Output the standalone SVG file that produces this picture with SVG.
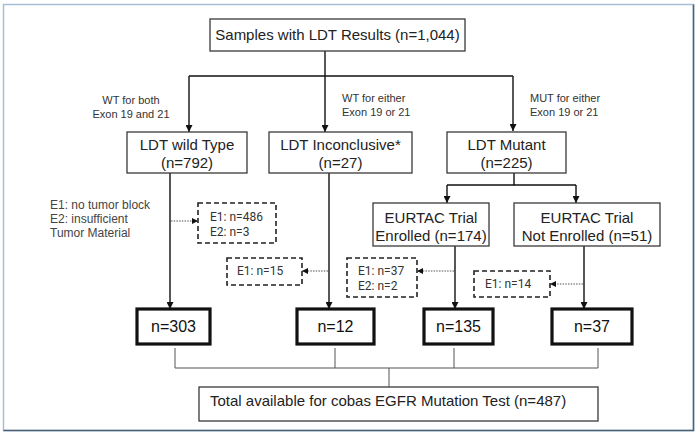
<svg xmlns="http://www.w3.org/2000/svg" width="700" height="436" viewBox="0 0 700 436">
<defs>
<style>
.box{fill:#fff;stroke:#3a3a3a;stroke-width:1.3}
.thick{fill:#fff;stroke:#111;stroke-width:3.2}
.dash{fill:#fff;stroke:#222;stroke-width:1.6;stroke-dasharray:5,3}
.ln{fill:none;stroke:#111;stroke-width:1.4}
.thin{fill:none;stroke:#555;stroke-width:1}
.dot{fill:none;stroke:#555;stroke-width:1.2;stroke-dasharray:1.5,1.2}
.t{font-family:"Liberation Sans",Arial,sans-serif;font-size:15px;fill:#222;text-anchor:middle}
.ts{font-family:"Liberation Sans",Arial,sans-serif;font-size:15px;fill:#222;text-anchor:start}
.tb{font-family:"Liberation Sans",Arial,sans-serif;font-size:16px;fill:#111;text-anchor:middle}
.lab{font-family:"Liberation Sans",Arial,sans-serif;font-size:11px;fill:#333}
.labc{font-family:"Liberation Sans",Arial,sans-serif;font-size:11px;fill:#333;text-anchor:middle}
.side{font-family:"Liberation Sans",Arial,sans-serif;font-size:12px;fill:#444}
.d{font-family:Roboto,"Liberation Sans",sans-serif;font-size:12px;fill:#333}
</style>
<marker id="ah" viewBox="0 0 10 10" refX="10" refY="5" markerWidth="7" markerHeight="7" markerUnits="userSpaceOnUse" orient="auto">
<path d="M0,0 L10,5 L0,10 Z" fill="#111"/>
</marker>
<marker id="sh" viewBox="0 0 10 10" refX="10" refY="5" markerWidth="6" markerHeight="6" markerUnits="userSpaceOnUse" orient="auto">
<path d="M0,0 L10,5 L0,10 Z" fill="#111"/>
</marker>
</defs>
<rect x="0" y="0" width="700" height="436" fill="#fff"/>
<rect x="3.5" y="4.5" width="690" height="426" fill="none" stroke="#a7bfd6" stroke-width="1.5"/>
<path d="M693.5,4.5 V430.5 H3.5" fill="none" stroke="#4a5f78" stroke-width="1.5"/>

<g id="connectors">
<path class="ln" d="M325,51 V76"/>
<path class="ln" d="M189,76 H513"/>
<path class="ln" d="M189,76 V132" marker-end="url(#ah)"/>
<path class="ln" d="M325,76 V132" marker-end="url(#ah)"/>
<path class="ln" d="M513,76 V131" marker-end="url(#ah)"/>
<path class="ln" d="M514,173 V185 H447"/>
<path class="ln" d="M514,185 H576"/>
<path class="ln" d="M447,185 V203" marker-end="url(#ah)"/>
<path class="ln" d="M576,185 V203" marker-end="url(#ah)"/>
<path class="ln" d="M170,173 V309" marker-end="url(#ah)"/>
<path class="ln" d="M329,173 V309" marker-end="url(#ah)"/>
<path class="ln" d="M455,246 V309" marker-end="url(#ah)"/>
<path class="ln" d="M584,246 V309" marker-end="url(#ah)"/>
<path class="dot" d="M171,221 H198" marker-end="url(#sh)"/>
<path class="dot" d="M328,271 H302" marker-end="url(#sh)"/>
<path class="dot" d="M454,271 H417" marker-end="url(#sh)"/>
<path class="dot" d="M583,284 H550" marker-end="url(#sh)"/>
<path class="thin" d="M175,348 V368 M335,348 V368 M454,348 V368 M598,348 V368 M175,368 H598 M389,368 V387"/>
</g>

<g id="labels">
<text class="labc" x="131" y="104">WT for both</text>
<text class="labc" x="131" y="118">Exon 19 and 21</text>
<text class="lab" x="342" y="102">WT for either</text>
<text class="lab" x="342" y="116">Exon 19 or 21</text>
<text class="lab" x="530" y="102">MUT for either</text>
<text class="lab" x="530" y="116">Exon 19 or 21</text>
<text class="side" x="50" y="209">E1: no tumor block</text>
<text class="side" x="50" y="223">E2: insufficient</text>
<text class="side" x="50" y="237">Tumor Material</text>
</g>

<g id="n-samples">
<rect class="box" x="210" y="19" width="255" height="32"/>
<text class="t" x="337.5" y="40">Samples with LDT Results (n=1,044)</text>
</g>
<g id="n-wild">
<rect class="box" x="127" y="132" width="120" height="41"/>
<text class="t" x="187" y="150">LDT wild Type</text>
<text class="t" x="187" y="168">(n=792)</text>
</g>
<g id="n-inconclusive">
<rect class="box" x="269" y="132" width="143" height="41"/>
<text class="t" x="340.5" y="150">LDT Inconclusive*</text>
<text class="t" x="340.5" y="168">(n=27)</text>
</g>
<g id="n-mutant">
<rect class="box" x="447" y="132" width="119" height="41"/>
<text class="t" x="506.5" y="150">LDT Mutant</text>
<text class="t" x="506.5" y="168">(n=225)</text>
</g>
<g id="n-enrolled">
<rect class="box" x="373" y="203" width="116" height="43"/>
<text class="t" x="431" y="223">EURTAC Trial</text>
<text class="t" x="431" y="241">Enrolled (n=174)</text>
</g>
<g id="n-notenrolled">
<rect class="box" x="514" y="203" width="146" height="43"/>
<text class="t" x="587" y="223">EURTAC Trial</text>
<text class="t" x="587" y="241">Not Enrolled (n=51)</text>
</g>
<g id="x-wild">
<rect class="dash" x="198" y="203" width="78" height="40"/>
<text class="d" x="210" y="221">E1: n=486</text>
<text class="d" x="210" y="236">E2: n=3</text>
</g>
<g id="x-inconclusive">
<rect class="dash" x="227" y="258" width="75" height="27"/>
<text class="d" x="237" y="275">E1: n=15</text>
</g>
<g id="x-enrolled">
<rect class="dash" x="347" y="258" width="70" height="39"/>
<text class="d" x="358" y="275">E1: n=37</text>
<text class="d" x="358" y="290">E2: n=2</text>
</g>
<g id="x-notenrolled">
<rect class="dash" x="474" y="271" width="76" height="26"/>
<text class="d" x="485" y="288">E1: n=14</text>
</g>
<g id="r-303">
<rect class="thick" x="137" y="309" width="73" height="35"/>
<text class="tb" x="173.5" y="332">n=303</text>
</g>
<g id="r-12">
<rect class="thick" x="297" y="309" width="77" height="35"/>
<text class="tb" x="335.5" y="332">n=12</text>
</g>
<g id="r-135">
<rect class="thick" x="424" y="309" width="69" height="35"/>
<text class="tb" x="458.5" y="332">n=135</text>
</g>
<g id="r-37">
<rect class="thick" x="552" y="309" width="80" height="35"/>
<text class="tb" x="592" y="332">n=37</text>
</g>
<g id="n-total">
<rect class="box" x="199" y="387" width="399" height="34"/>
<text class="ts" x="210" y="406">Total available for cobas EGFR Mutation Test (n=487)</text>
</g>
</svg>
